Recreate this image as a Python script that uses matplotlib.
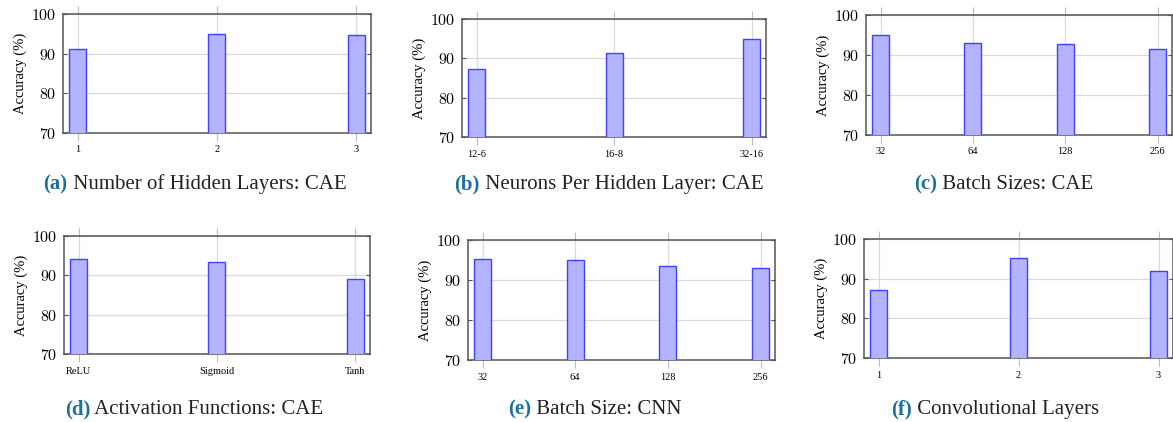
import matplotlib
matplotlib.use("Agg")
import matplotlib.pyplot as plt

plt.rcParams['font.family'] = ['Liberation Serif', 'DejaVu Serif']
plt.rcParams['mathtext.fontset'] = 'cm'

# data
hidden_layers = ['1', '2', '3']
hidden_layers_acc = [91.2, 95.0, 94.6]

neurons = ['12-6', '16-8', '32-16']
neurons_acc = [87.2, 91.3, 94.9]

batch_cae = ['32', '64', '128', '256']
batch_cae_acc = [95.0, 93.0, 92.8, 91.4]

activations = ['ReLU', 'Sigmoid', 'Tanh']
activations_acc = [94.2, 93.4, 89.1]

batch_cnn = ['32', '64', '128', '256']
batch_cnn_acc = [95.2, 95.1, 93.4, 92.9]

conv_layers = ['1', '2', '3']
conv_layers_acc = [87.1, 95.1, 92.0]

y_ticks = [70, 80, 90, 100]

W, H = 1173, 422
fig = plt.figure(figsize=(W / 100, H / 100), dpi=100)

BAR_FILL = '#b3b3ff'
BAR_EDGE = '#4040ff'
SPINE = '#555555'
GRID = '#d9d9d9'
CAP_BLUE = '#1f6e9c'

# (labels, values, left, right, top, bottom px, caption tag, caption text, caption cx, caption baseline)
panels = [
    (hidden_layers, hidden_layers_acc, 63, 371, 14, 133, '(a)', 'Number of Hidden Layers: CAE', 195, 189),
    (neurons, neurons_acc, 462, 766, 19, 137, '(b)', 'Neurons Per Hidden Layer: CAE', 609, 189),
    (batch_cae, batch_cae_acc, 866, 1172, 15, 135, '(c)', 'Batch Sizes: CAE', 1004, 189),
    (activations, activations_acc, 64, 370, 236, 354, '(d)', 'Activation Functions: CAE', 194, 414),
    (batch_cnn, batch_cnn_acc, 468, 775, 240, 360, '(e)', 'Batch Size: CNN', 595, 414),
    (conv_layers, conv_layers_acc, 864, 1173, 239, 358, '(f)', 'Convolutional Layers', 995, 414),
]

renderer = fig.canvas.get_renderer()
margin_px = 14.5
bar_px = 17

for labels, vals, l, r, t, b, tag, cap, cx, cy in panels:
    ax = fig.add_axes([l / W, 1 - b / H, (r - l) / W, (b - t) / H])
    n = len(labels)
    x = list(range(n))
    spacing = (r - l - 2 * margin_px) / (n - 1)
    m = margin_px / spacing
    ax.bar(x, vals, width=bar_px / spacing, color=BAR_FILL, edgecolor=BAR_EDGE,
           linewidth=1.0, zorder=3)
    ax.set_xlim(-m, n - 1 + m)
    ax.set_ylim(70, 100)
    ax.set_yticks(y_ticks)
    ax.set_yticklabels([f'${v}$' for v in y_ticks])
    ax.set_xticks(x)
    ax.set_xticklabels(labels, fontsize=7.5)
    ax.tick_params(axis='y', labelsize=11.5, direction='in', left=True, right=True,
                   length=3, color=SPINE, pad=5)
    ax.tick_params(axis='x', direction='out', top=True, bottom=True, length=6,
                   color='#bbbbbb', width=0.8, pad=3)
    ax.grid(True, color=GRID, linewidth=0.9, zorder=0)
    ax.set_axisbelow(True)
    for s in ax.spines.values():
        s.set_color(SPINE)
        s.set_linewidth(1.1)
    ax.set_ylabel('Accuracy (%)', fontsize=10.5, labelpad=3)

    t1 = fig.text(0, 0, tag, fontsize=15, fontweight='bold', color=CAP_BLUE,
                  va='baseline')
    t2 = fig.text(0, 0, ' ' + cap, fontsize=15, color='#222222', va='baseline')
    w1 = t1.get_window_extent(renderer).width
    w2 = t2.get_window_extent(renderer).width
    x0 = cx - (w1 + w2) / 2
    t1.set_position((x0 / W, 1 - cy / H))
    t2.set_position(((x0 + w1) / W, 1 - cy / H))

fig.savefig('out.png', dpi=100)
